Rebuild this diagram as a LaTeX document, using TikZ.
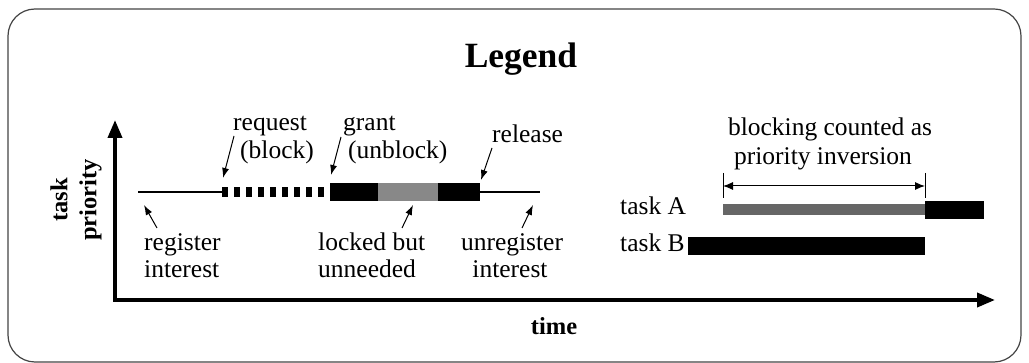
\documentclass[tikz,border=0pt]{standalone}
\usepackage{fontspec}
\setmainfont{Liberation Serif}
\usetikzlibrary{arrows.meta}
\definecolor{lockgray}{HTML}{888888}
\definecolor{invgray}{HTML}{666666}
\definecolor{framegray}{HTML}{444444}
\begin{document}
\begin{tikzpicture}[x=1pt,y=-1pt,
  lbl/.style={font=\fontsize{25.5}{30}\selectfont, inner sep=0pt, anchor=base west},
  lblc/.style={font=\fontsize{25.5}{30}\selectfont, inner sep=0pt, anchor=base},
  ann/.style={-{Latex[length=10pt,width=7pt]}, line width=1pt},
  thinline/.style={line width=1.2pt},
  axisline/.style={line width=3.8pt, line join=miter,
    {Triangle[length=18pt,width=14pt]}-{Triangle[length=18pt,width=14pt]}},
  dimline/.style={line width=1pt, {Latex[length=10pt,width=8pt]}-{Latex[length=10pt,width=8pt]}},
]
\useasboundingbox (0,0) rectangle (1029,363);
\draw[rounded corners=27pt, line width=1.2pt, draw=framegray] (8,9) rectangle (1021,362);

% title
\node[font=\bfseries\fontsize{35.5}{42}\selectfont, inner sep=0pt, anchor=base] (title) at (521,68) {Legend};

% axes
\coordinate (ytop) at (115,120);
\coordinate (origin) at (115,300);
\coordinate (xend) at (995,300);
\draw[axisline] (ytop) -- (origin) -- (xend);
\node[rotate=90, font=\bfseries\fontsize{24.5}{29}\selectfont, align=center, inner sep=0pt] (ylab) at (76,200) {task\\priority};
\node[font=\bfseries\fontsize{24.5}{29}\selectfont, inner sep=0pt, anchor=base] (xlab) at (554,335) {time};

% left timeline
\coordinate (l0) at (138,192);
\coordinate (d0) at (222,192);
\coordinate (d1) at (324,192);
\coordinate (r0) at (480,192);
\coordinate (r1) at (540,192);
\draw[thinline] (l0) -- (d0);
\draw[line width=10pt, dash pattern=on 6pt off 6pt] (d0) -- (d1);
\fill[black] (330,183) rectangle (378,201);
\fill[lockgray] (378,183) rectangle (438,201);
\fill[black] (438,183) rectangle (480,201);
\draw[thinline] (r0) -- (r1);

% labels, left part
\node[lbl] (req1) at (233,131) {request};
\node[lbl] (req2) at (240,159) {(block)};
\node[lbl] (gr1) at (343,131) {grant};
\node[lbl] (gr2) at (348,159) {(unblock)};
\node[lbl] (rel) at (492,143) {release};
\node[lbl] (reg1) at (144,251) {register};
\node[lbl] (reg2) at (144,278) {interest};
\node[lbl] (lk1) at (318,251) {locked but};
\node[lbl] (lk2) at (318,278) {unneeded};
\node[lblc] (ur1) at (512,251) {unregister};
\node[lblc] (ur2) at (510,278) {interest};

% annotation arrows
\coordinate (aReqT) at (234,136); \coordinate (aReqH) at (223,178);
\coordinate (aGrT) at (341,137);  \coordinate (aGrH) at (331,175);
\coordinate (aRelT) at (492,148); \coordinate (aRelH) at (481,180);
\coordinate (aRegT) at (157,228); \coordinate (aRegH) at (144,205);
\coordinate (aLkT) at (402,228);  \coordinate (aLkH) at (413,205);
\coordinate (aUrT) at (522,228);  \coordinate (aUrH) at (533,205);
\draw[ann] (aReqT) -- (aReqH);
\draw[ann] (aGrT) -- (aGrH);
\draw[ann] (aRelT) -- (aRelH);
\draw[ann] (aRegT) -- (aRegH);
\draw[ann] (aLkT) -- (aLkH);
\draw[ann] (aUrT) -- (aUrH);

% right part
\node[lblc] (bc1) at (830,136) {blocking counted as};
\node[lblc] (bc2) at (823,165) {priority inversion};
\coordinate (t1a) at (723,173); \coordinate (t1b) at (723,198);
\coordinate (t2a) at (925,173); \coordinate (t2b) at (925,198);
\draw[line width=1pt] (t1a) -- (t1b);
\draw[line width=1pt] (t2a) -- (t2b);
\coordinate (dimL) at (723,186); \coordinate (dimR) at (925,186);
\draw[dimline] (dimL) -- (dimR);

\node[lbl] (taskA) at (620,215) {task A};
\node[lbl] (taskB) at (620,252) {task B};
\fill[invgray] (723,204) rectangle (925,215);
\fill[black] (925,201) rectangle (984,219);
\fill[black] (688,237) rectangle (925,255);
\end{tikzpicture}
\end{document}
